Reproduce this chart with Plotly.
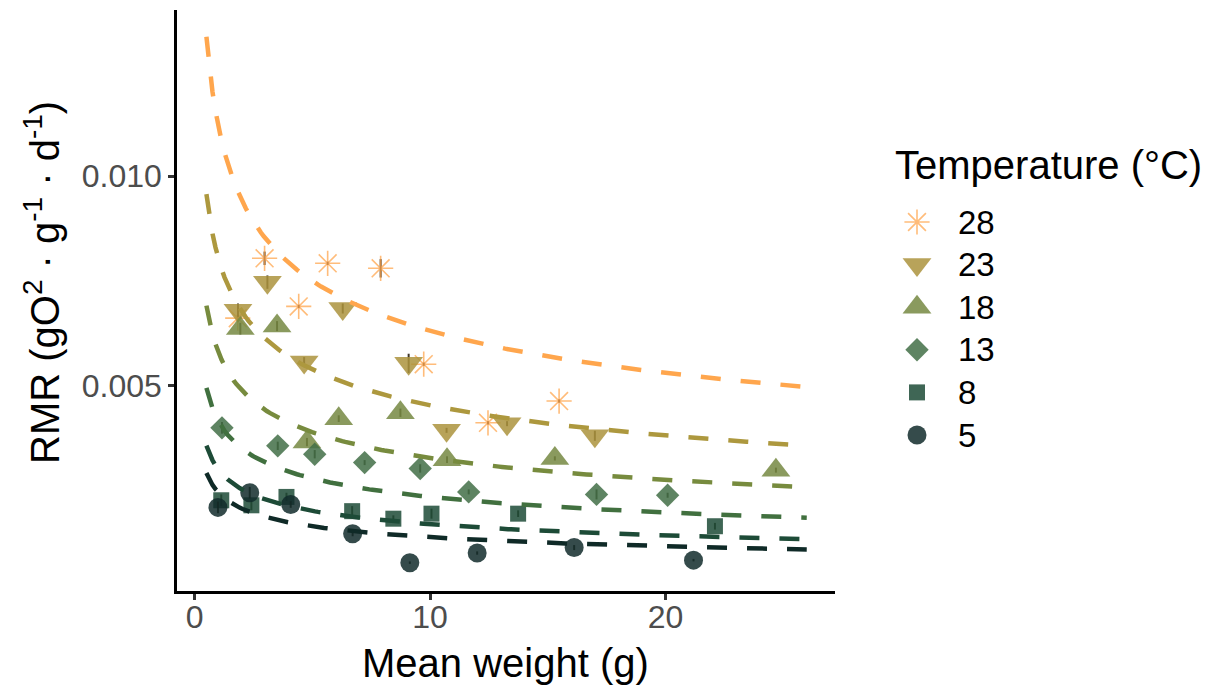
import numpy as np
import plotly.graph_objects as go

# Temperature groups (°C), legend order
temps = ["28", "23", "18", "13", "8", "5"]

# Mean weight (g) per group
w28 = [1.83, 2.97, 4.42, 5.65, 7.90, 9.73, 12.46, 15.48]
w23 = [1.84, 3.09, 4.65, 6.29, 9.09, 10.70, 13.27, 17.00]
w18 = [1.94, 3.50, 4.77, 6.12, 8.74, 10.72, 15.30, 24.69]
w13 = [1.16, 3.53, 5.10, 7.22, 9.58, 11.64, 17.07, 20.09]
w8 = [1.13, 2.41, 3.90, 6.69, 8.44, 10.06, 13.74, 22.10]
w5 = [0.99, 2.34, 4.08, 6.71, 9.14, 12.00, 16.12, 21.19]

# Routine metabolic rate (gO2 g-1 d-1) per group
r28 = [0.00661, 0.00804, 0.00689, 0.00792, 0.00780, 0.00551, 0.00411, 0.00463]
r23 = [0.00680, 0.00747, 0.00556, 0.00684, 0.00553, 0.00393, 0.00409, 0.00380]
r18 = [0.00636, 0.00642, 0.00365, 0.00421, 0.00435, 0.00323, 0.00326, 0.00298]
r13 = [0.00399, 0.00356, 0.00336, 0.00316, 0.00302, 0.00246, 0.00240, 0.00238]
r8 = [0.00226, 0.00214, 0.00234, 0.00200, 0.00182, 0.00194, 0.00194, 0.00164]
r5 = [0.00209, 0.00244, 0.00216, 0.00146, 0.00077, 0.00100, 0.00113, 0.00083]

# Standard errors
e28 = [0.00008, 0.00016, 0.00004, 0.00004, 0.00022, 0.00004, 0.00004, 0.00004]
e23 = [0.00016, 0.00016, 0.00012, 0.00012, 0.00023, 0.00006, 0.00006, 0.00012]
e18 = [0.00014, 0.00012, 0.00010, 0.00008, 0.00010, 0.00008, 0.00005, 0.00006]
e13 = [0.00014, 0.00010, 0.00010, 0.00006, 0.00010, 0.00006, 0.00012, 0.00006]
e8 = [0.00014, 0.00012, 0.00010, 0.00012, 0.00008, 0.00012, 0.00008, 0.00008]
e5 = [0.00014, 0.00014, 0.00008, 0.00006, 0.00003, 0.00004, 0.00006, 0.00003]

# Allometric fit RMR = a * W^b per group
fit_a = [0.01121, 0.00805, 0.00581, 0.00416, 0.00300, 0.00245]
fit_b = [-0.25, -0.25, -0.25, -0.25, -0.25, -0.25]
fit_range = [0.5, 26.0]

weights = [w28, w23, w18, w13, w8, w5]
rates = [r28, r23, r18, r13, r8, r5]
errors = [e28, e23, e18, e13, e8, e5]

symbols = ["asterisk-open", "triangle-down", "triangle-up", "diamond", "square", "circle"]
sizes = [21, 25, 25, 18, 16, 19]
line_cols = ["#FFA64D", "#AD983E", "#778B3E", "#41703F", "#1D4B37", "#0F2A27"]
mark_cols = ["rgba(255,166,77,0.75)", "rgba(172,147,61,0.85)", "rgba(118,136,66,0.85)",
             "rgba(66,111,71,0.85)", "rgba(29,75,55,0.85)", "rgba(18,44,44,0.85)"]

FONT = "Liberation Sans, Arial, sans-serif"

# Figure geometry (pixels)
W, H = 1212, 690
ML, MR, MT, MB = 177, 12, 10, 99
PW = W - ML - MR
PH = H - MT - MB
PLOT_RIGHT = 835
LEG_LEFT = 850


def px_x(p):
    return (p - ML) / PW


def px_y(p):
    return (H - MB - p) / PH


fig = go.Figure()

# Observed means with error bars
for i, t in enumerate(temps):
    is_ast = symbols[i] == "asterisk-open"
    fig.add_trace(go.Scatter(
        x=weights[i], y=rates[i], mode="markers", name=t, showlegend=False,
        marker=dict(symbol=symbols[i], size=sizes[i], color=mark_cols[i],
                    line=dict(color=mark_cols[i], width=1.6 if is_ast else 0)),
        error_y=dict(type="data", array=errors[i], visible=True,
                     color="rgba(30,20,0,0.85)", thickness=2, width=0),
    ))

# Fitted allometric curves
for i, t in enumerate(temps):
    xs = np.linspace(fit_range[0], fit_range[1], 200)
    ys = fit_a[i] * xs ** fit_b[i]
    fig.add_trace(go.Scatter(
        x=xs, y=ys, mode="lines", showlegend=False,
        line=dict(color=line_cols[i], width=4.5, dash="20px,20px"),
        hoverinfo="skip",
    ))

# Legend keys drawn on a pixel-scaled helper axis
leg_y = [222 + 42.6 * k for k in range(len(temps))]
for i, t in enumerate(temps):
    is_ast = symbols[i] == "asterisk-open"
    fig.add_trace(go.Scatter(
        x=[917], y=[leg_y[i]], xaxis="x2", yaxis="y2", mode="markers",
        showlegend=False, hoverinfo="skip",
        marker=dict(symbol=symbols[i], size=sizes[i], color=mark_cols[i],
                    line=dict(color=mark_cols[i], width=1.6 if is_ast else 0)),
    ))
    fig.add_annotation(x=956, y=leg_y[i], xref="x2", yref="y2", text=t,
                       showarrow=False, xanchor="left", yanchor="middle",
                       font=dict(size=33, color="black", family=FONT))

fig.add_annotation(x=893, y=165, xref="x2", yref="y2", text="Temperature (°C)",
                   showarrow=False, xanchor="left", yanchor="middle",
                   font=dict(size=40, color="black", family=FONT))

# Axis titles
fig.add_annotation(x=px_x(42), y=px_y(283), xref="paper", yref="paper",
                   text="RMR (gO<sup>2</sup> · g<sup>-1</sup> · d<sup>-1</sup>)",
                   textangle=-90, showarrow=False, xanchor="center", yanchor="middle",
                   font=dict(size=40, color="black", family=FONT))
fig.add_annotation(x=px_x(505), y=px_y(663), xref="paper", yref="paper",
                   text="Mean weight (g)", showarrow=False,
                   xanchor="center", yanchor="middle",
                   font=dict(size=40, color="black", family=FONT))

fig.update_layout(
    width=W, height=H,
    margin=dict(l=ML, r=MR, t=MT, b=MB),
    paper_bgcolor="white", plot_bgcolor="white",
    font=dict(family=FONT, color="black"),
    xaxis=dict(
        domain=[0, px_x(PLOT_RIGHT)],
        range=[-0.75, 27.2], tickvals=[0, 10, 20], ticktext=["0", "10", "20"],
        showgrid=False, zeroline=False, showline=True, linecolor="black", linewidth=2.5,
        ticks="outside", ticklen=6, tickwidth=2.5, tickcolor="#333333",
        tickfont=dict(size=32, color="#4D4D4D", family=FONT),
        ticklabelstandoff=-10,
    ),
    yaxis=dict(
        range=[0.000093, 0.01397], tickvals=[0.005, 0.010], ticktext=["0.005", "0.010"],
        showgrid=False, zeroline=False, showline=True, linecolor="black", linewidth=2.5,
        ticks="outside", ticklen=6, tickwidth=2.5, tickcolor="#333333",
        tickfont=dict(size=32, color="#4D4D4D", family=FONT),
    ),
    xaxis2=dict(domain=[px_x(LEG_LEFT), 1], range=[LEG_LEFT, W - MR], anchor="y2",
                visible=False, fixedrange=True),
    yaxis2=dict(domain=[0, 1], range=[H - MB, MT], anchor="x2",
                visible=False, fixedrange=True),
)

fig.write_html("out.html")
